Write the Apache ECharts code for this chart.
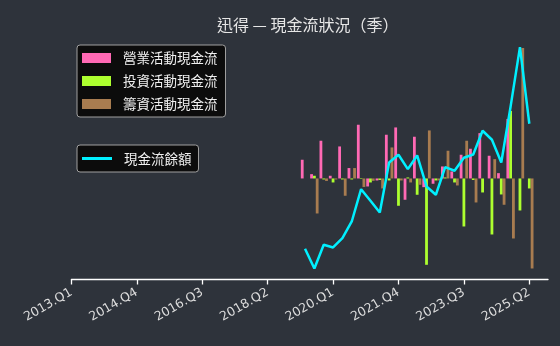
<!DOCTYPE html>
<html>
<head>
<meta charset="utf-8">
<script src="https://cdn.jsdelivr.net/npm/echarts@6.0.0/dist/echarts.min.js"></script>
<style>
  html, body { margin: 0; padding: 0; background: #2e333b; }
  #chart { width: 560px; height: 346px; }
</style>
</head>
<body>
<div id="chart"></div>
<script>
// x 軸：2013.Q1 ~ 2025.Q4
const quarters = [
  '2013.Q1','2013.Q2','2013.Q3','2013.Q4',
  '2014.Q1','2014.Q2','2014.Q3','2014.Q4',
  '2015.Q1','2015.Q2','2015.Q3','2015.Q4',
  '2016.Q1','2016.Q2','2016.Q3','2016.Q4',
  '2017.Q1','2017.Q2','2017.Q3','2017.Q4',
  '2018.Q1','2018.Q2','2018.Q3','2018.Q4',
  '2019.Q1','2019.Q2','2019.Q3','2019.Q4',
  '2020.Q1','2020.Q2','2020.Q3','2020.Q4',
  '2021.Q1','2021.Q2','2021.Q3','2021.Q4',
  '2022.Q1','2022.Q2','2022.Q3','2022.Q4',
  '2023.Q1','2023.Q2','2023.Q3','2023.Q4',
  '2024.Q1','2024.Q2','2024.Q3','2024.Q4',
  '2025.Q1','2025.Q2','2025.Q3','2025.Q4'
];

// 有資料的季度
const dataQuarters = [
  '2019.Q2','2019.Q3','2019.Q4',
  '2020.Q1','2020.Q2','2020.Q3','2020.Q4',
  '2021.Q1','2021.Q2','2021.Q3','2021.Q4',
  '2022.Q1','2022.Q2','2022.Q3','2022.Q4',
  '2023.Q1','2023.Q2','2023.Q3','2023.Q4',
  '2024.Q1','2024.Q2','2024.Q3','2024.Q4',
  '2025.Q1','2025.Q2'
];

// 營業活動現金流
const operating = [18.7, 4.3, 37.7, 2.7, 32, 10.4, 53.7, -8, -2, 43.7, 51, -21.3, 41.7,
  -8.7, -5.3, 12, 7, 23.7, 29.7, 45.3, 22.7, 5.3, 59.5, 0, 0];
// 投資活動現金流
const investing = [0, 2.7, -1, -4, -1, -1, -0.5, -4, -1.5, -2, -27.3, 1, -16.3,
  -86.3, -2, 1, -4, -48, -1.5, -14, -56, -16, 67.5, -32, -10];
// 籌資活動現金流
const financing = [0, -35, -2.5, -1, -17.3, 10.4, -8.5, -2.4, -10, 31, -2, -4, -6.3,
  48, -2, 27.7, -7, 37.7, -24, 0, 19.3, -26.3, -60, 130.4, -90];
// 現金流餘額
const balance = [-70.3, -90, -66.3, -69, -59.7, -43, -10.7, -22.3, -34, 16, 23.7, 9.3, 23,
  -8, -16.3, 11.3, 7.7, 20.7, 24, 47.7, 38.7, 16, 72, 131.3, 54.7];

const pair = arr => dataQuarters.map((q, i) => [q, arr[i]]);

const chart = echarts.init(document.getElementById('chart'));
const font = "'Noto Sans CJK TC', 'DejaVu Sans', sans-serif";

const barSeries = (name, arr, color) => ({
  name: name,
  type: 'bar',
  data: pair(arr),
  barWidth: 2.8,
  barGap: '0%',
  itemStyle: { color: color },
  xAxisIndex: 0,
  yAxisIndex: 0
});

chart.setOption({
  animation: false,
  backgroundColor: '#2e333b',
  title: {
    text: '迅得 — 現金流狀況（季）',
    left: 212,
    top: 12,
    textStyle: { color: '#e6e6e6', fontSize: 16, fontWeight: 'normal', fontFamily: font }
  },
  legend: [
    {
      data: ['營業活動現金流', '投資活動現金流', '籌資活動現金流'],
      orient: 'vertical',
      left: 77,
      top: 45,
      itemWidth: 29,
      itemHeight: 10,
      itemGap: 9,
      padding: [6, 8, 6, 5],
      backgroundColor: '#0c0c0c',
      borderColor: '#a0a0a0',
      borderWidth: 1,
      borderRadius: 3,
      icon: 'rect',
      textStyle: { color: '#f0f0f0', fontSize: 13.5, lineHeight: 14, fontFamily: font, padding: [0, 0, 0, 7] }
    },
    {
      data: [{ name: '現金流餘額', icon: 'rect' }],
      orient: 'vertical',
      left: 77,
      top: 145,
      itemWidth: 30,
      itemHeight: 3,
      padding: [6.5, 7, 6.5, 5],
      backgroundColor: '#0c0c0c',
      borderColor: '#a0a0a0',
      borderWidth: 1,
      borderRadius: 3,
      textStyle: { color: '#f0f0f0', fontSize: 13.5, lineHeight: 14, fontFamily: font, padding: [0, 0, 0, 7] }
    }
  ],
  grid: { left: 71.4, right: 12, top: 37, bottom: 66.5, containLabel: false },
  xAxis: {
    type: 'category',
    data: quarters,
    boundaryGap: false,
    axisLine: { show: true, onZero: false, lineStyle: { color: '#ffffff', width: 1.3 } },
    axisTick: { show: true, interval: 6, length: 5, lineStyle: { color: '#ffffff', width: 1.3 } },
    axisLabel: { interval: 6, rotate: 30, color: '#dddddd', fontSize: 12.5, margin: 12, fontFamily: "'DejaVu Sans', sans-serif" },
    splitLine: { show: false }
  },
  yAxis: [
    { type: 'value', min: -101, max: 141.4, show: false },
    { type: 'value', min: -101, max: 141.4, show: false }
  ],
  series: [
    barSeries('營業活動現金流', operating, '#ff69b4'),
    barSeries('投資活動現金流', investing, '#adff2f'),
    barSeries('籌資活動現金流', financing, '#a87c50'),
    {
      name: '現金流餘額',
      type: 'line',
      data: pair(balance),
      yAxisIndex: 1,
      symbol: 'none',
      showSymbol: false,
      lineStyle: { color: '#00f0ff', width: 2.5 },
      itemStyle: { color: '#00f0ff' },
      z: 5
    }
  ]
});
</script>
</body>
</html>
